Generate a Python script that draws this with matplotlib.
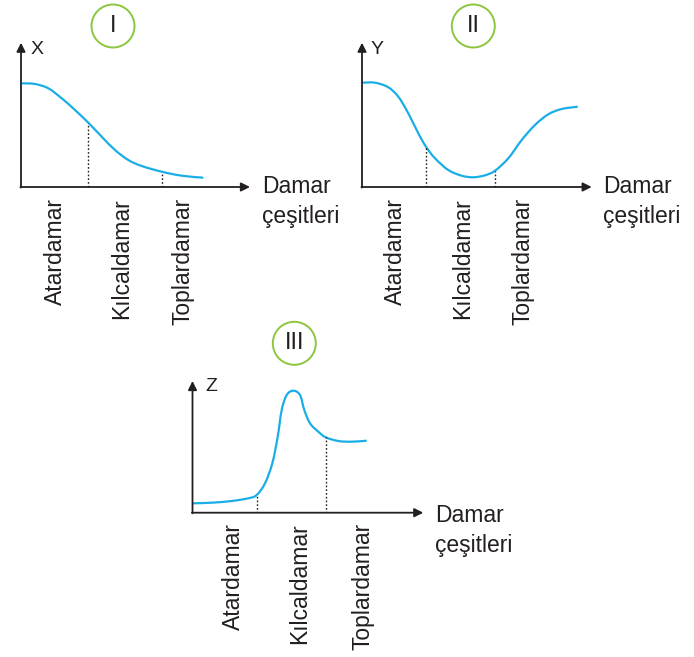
import matplotlib
matplotlib.use("Agg")
import matplotlib.pyplot as plt
from matplotlib.patches import Circle, PathPatch
from matplotlib.path import Path

plt.rcParams['font.family'] = ['Liberation Sans', 'DejaVu Sans']

# ---------------- data ----------------
categories = ["Atardamar", "Kılcaldamar", "Toplardamar"]
x_axis_title = ["Damar", "çeşitleri"]

# Panel I : X
p1_x = [0.7, 14, 27.3, 40.7, 54, 67.3, 80.7, 94, 107.3, 120.7, 140.7, 160.7, 182.3]
p1_y = [103.7, 103, 98.7, 88.7, 77, 64.3, 50.3, 37, 27, 21, 15.3, 11.3, 9.3]
p1_dash_x = [67.3, 140.7]
p1_dash_y = [64.3, 15.3]
p1_ticks = [34.5, 101, 162]

# Panel II : Y
p2_x = [0.3, 13, 26.3, 36.3, 46.3, 56.3, 64, 73, 86.3, 99.7, 111.3, 123, 133,
        146.3, 159.7, 173, 186.3, 199.7, 215.7]
p2_y = [104.3, 104.3, 99.7, 90.3, 73.7, 53.7, 40.3, 28.7, 17, 11.3, 9.7, 11.7,
        16.3, 28.7, 47, 62, 72.7, 78, 80.3]
p2_dash_x = [64, 133]
p2_dash_y = [40.3, 16.3]
p2_ticks = [33.5, 101, 161]

# Panel III : Z
p3_x = [0, 19.2, 39.2, 55.8, 64.2, 72.5, 79.8, 85.2, 89.2, 94.2, 100.8, 107.5,
        111.8, 117.5, 125.8, 133.2, 145.8, 159.2, 174.2]
p3_y = [9.4, 10, 11.7, 14.4, 17.7, 29.4, 49.4, 76, 102.7, 117.7, 122, 117.7,
        102.7, 89.4, 81, 75.4, 71.7, 71, 72]
p3_dash_x = [64.2, 133.2]
p3_dash_y = [17.7, 75.4]
p3_ticks = [40.5, 107, 170.5]

# ---------------- styling ----------------
W_PX, H_PX = 694, 657
DARK = '#231f20'
BLUE = '#1aaee6'
GREEN = '#8cc63f'

fig = plt.figure(figsize=(W_PX / 100, H_PX / 100), dpi=100)
fig.patch.set_facecolor('white')


def smooth_path(xs, ys):
    """Smooth rendering through the read points (Catmull-Rom as Bezier)."""
    pts = list(zip(xs, ys))
    verts = [pts[0]]
    codes = [Path.MOVETO]
    n = len(pts)
    for i in range(n - 1):
        p0 = pts[i - 1] if i > 0 else pts[i]
        p1 = pts[i]
        p2 = pts[i + 1]
        p3 = pts[i + 2] if i + 2 < n else pts[i + 1]
        c1 = (p1[0] + (p2[0] - p0[0]) / 6, p1[1] + (p2[1] - p0[1]) / 6)
        c2 = (p2[0] - (p3[0] - p1[0]) / 6, p2[1] - (p3[1] - p1[1]) / 6)
        verts += [c1, c2, p2]
        codes += [Path.CURVE4] * 3
    return Path(verts, codes)


def panel(origin, xs, ys, dash_x, dash_y, ticks, letter, letter_pos,
          roman, circle_pos, x_tip, y_tip, title_pos, tick_pad):
    ox, oy = origin
    W, H = 250, 180
    ax = fig.add_axes([ox / W_PX, (H_PX - oy) / H_PX, W / W_PX, H / H_PX])
    ax.set_xlim(0, W)
    ax.set_ylim(0, H)
    for s in ax.spines.values():
        s.set_visible(False)
    ax.patch.set_visible(False)
    ax.set_yticks([])
    ax.set_xticks(ticks)
    ax.set_xticklabels(categories, rotation=90, fontsize=16.5, color=DARK,
                       va='top', ha='center')
    ax.tick_params(axis='x', length=0, pad=tick_pad)

    # axes with arrows
    ap = dict(arrowstyle='-|>', lw=1.3, color=DARK, mutation_scale=13,
              shrinkA=0, shrinkB=0)
    ax.annotate('', xy=(x_tip, 0), xytext=(-0.6, 0), arrowprops=ap,
                annotation_clip=False)
    ax.annotate('', xy=(0, y_tip), xytext=(0, -0.6), arrowprops=ap,
                annotation_clip=False)

    # curve
    ax.add_patch(PathPatch(smooth_path(xs, ys), facecolor='none',
                           edgecolor=BLUE, lw=1.6, capstyle='butt',
                           clip_on=False))
    # dotted guides
    ax.vlines(dash_x, 0, dash_y, colors=DARK, linestyles=(0, (1.2, 1.5)),
              lw=1.0)

    ax.text(letter_pos[0], letter_pos[1], letter, fontsize=14, color=DARK,
            ha='center', va='center')
    ax.text(title_pos[0], title_pos[1], x_axis_title[0], fontsize=16.5,
            color=DARK, ha='left', va='baseline')
    ax.text(title_pos[0], title_pos[1] - 30, x_axis_title[1], fontsize=16.5,
            color=DARK, ha='left', va='baseline')

    circ = Circle(circle_pos, 21.5, facecolor='none', edgecolor=GREEN,
                  lw=1.4, clip_on=False)
    ax.add_patch(circ)
    ax.text(circle_pos[0], circle_pos[1], roman, fontsize=17, color=DARK,
            ha='center', va='center')
    return ax


panel((21, 187), p1_x, p1_y, p1_dash_x, p1_dash_y, p1_ticks, 'X', (16.5, 138),
      'I', (92, 161), 229, 144.3, (241, -6.3), 8.0)
panel((362, 187), p2_x, p2_y, p2_dash_x, p2_dash_y, p2_ticks, 'Y', (15.5, 138),
      'II', (111.3, 161), 229.7, 144.3, (241.3, -6.3), 8.0)
panel((192.5, 512.7), p3_x, p3_y, p3_dash_x, p3_dash_y, p3_ticks, 'Z',
      (19, 126), 'III', (101.8, 169.4), 230.8, 131.7, (242.5, -9), 7.3)

fig.savefig('out.png', dpi=100, facecolor='white')
